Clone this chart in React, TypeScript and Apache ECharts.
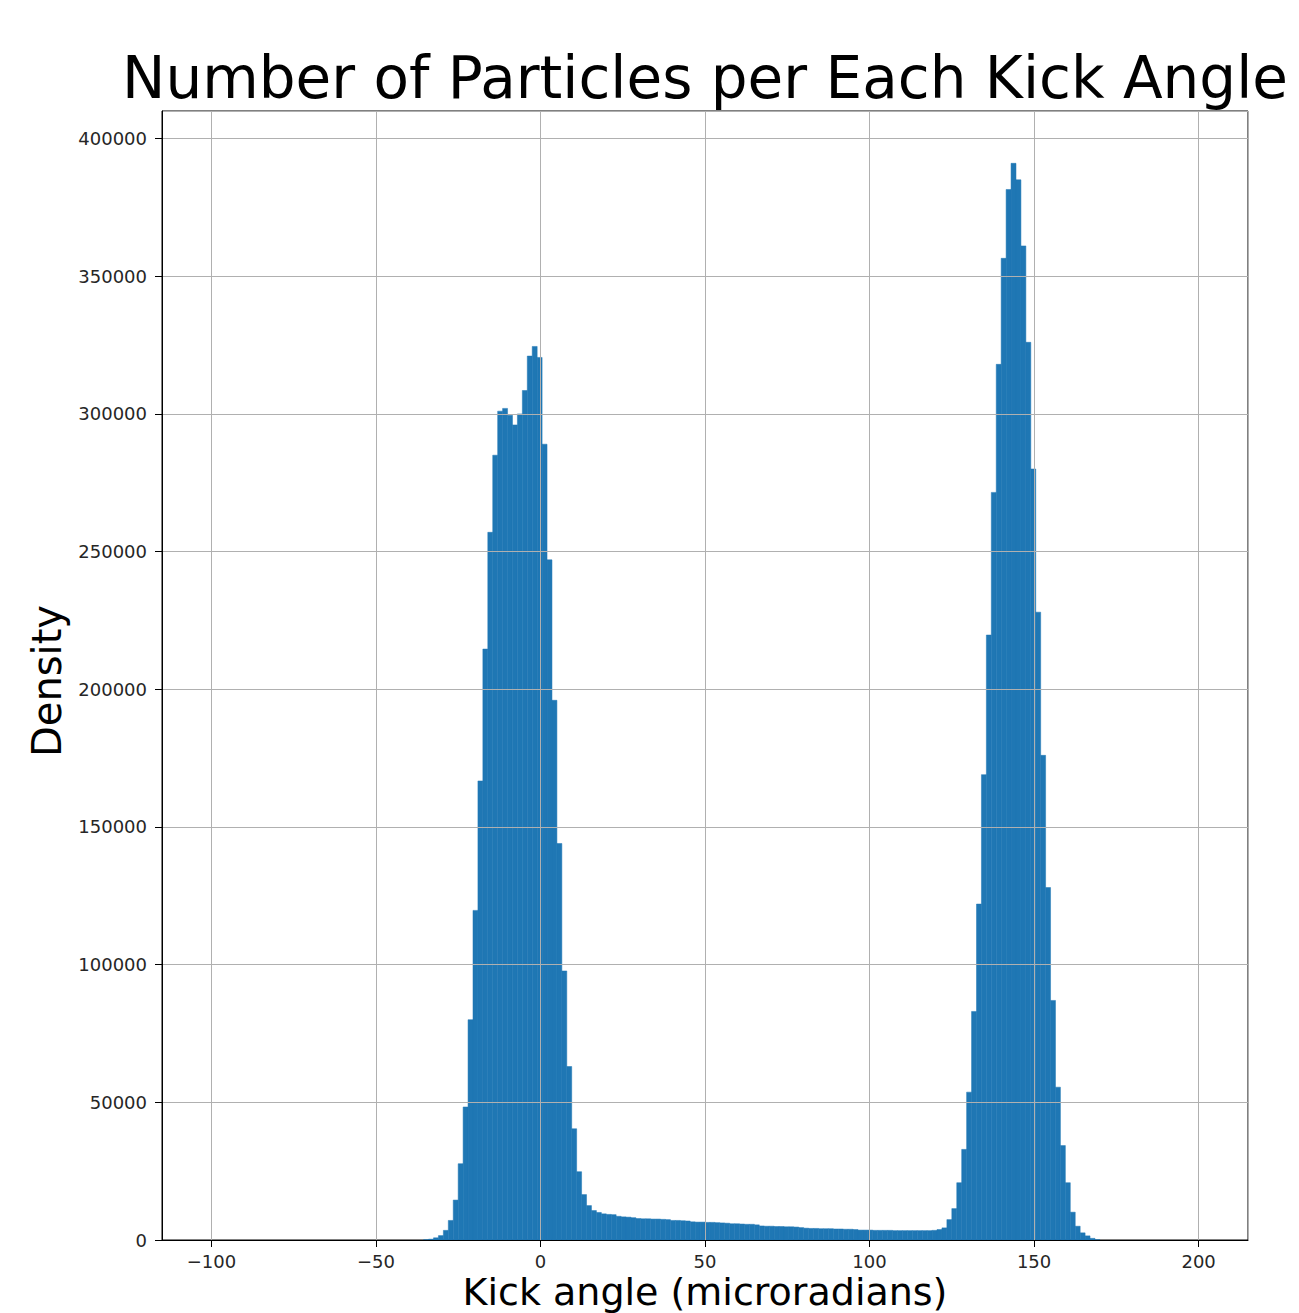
import React, { useEffect, useRef } from "react";
import * as echarts from "echarts";

const TITLE = "Number of Particles per Each Kick Angle";
const X_LABEL = "Kick angle (microradians)";
const Y_LABEL = "Density";

const X_MIN = -115;
const X_MAX = 215;
const Y_MIN = 0;
const Y_MAX = 410000;
const Y_TICK_STEP = 50000;

// histogram bins: width 1.5 µrad, first non-empty bin starts at -35.5
const BIN_WIDTH = 1.5;
const FIRST_BIN_LEFT = -35.5;

// bins centred -34.75 … 17.75
const leftPeakCounts = [
  100, 300, 800, 1600, 3500, 7100, 14500, 27700, 48300, 80000,
  119700, 166700, 214600, 257000, 285000, 301000, 302000, 299500, 296000, 300000,
  308500, 321000, 324500, 320500, 289000, 247000, 196000, 144000, 97700, 63000,
  40400, 24800, 16500, 12500, 10700, 10000,
];

// bins centred 19.25 … 119.75
const tailCounts = [
  9500, 9300, 9200,
  8600, 8400, 8300, 8100,
  7800, 7700, 7700, 7600, 7600, 7500, 7400,
  7100, 7100, 7000, 6900,
  6600, 6500, 6500, 6400, 6400, 6300, 6200, 6100,
  5900, 5900, 5800, 5700, 5700, 5500,
  5100, 5000, 5000, 4900, 4900, 4800, 4800, 4700,
  4500, 4300, 4200, 4200, 4100, 4100, 4100, 4000, 4000, 3900, 3900, 3800,
  3600, 3600, 3600, 3500, 3500, 3500, 3500, 3400, 3400, 3400, 3400, 3400, 3400, 3400, 3400, 3500,
];

// bins centred 121.25 … 169.25
const rightPeakCounts = [
  3800, 4400, 7400, 11400, 20800, 32900, 53700, 83000, 122000, 169000,
  219700, 271500, 318000, 356500, 381500, 391000, 385000, 361000, 326000, 280000,
  228000, 176000, 128000, 87000, 55500, 34300, 20800, 10100, 5000, 2600,
  1500, 600, 100,
];

const BAR_COLOR = "#1f77b4";
const FONT = "'DejaVu Sans', 'Liberation Sans', sans-serif";

const fmtTick = (v: number) => (v < 0 ? "\u2212" + Math.abs(v) : String(v));

export default function App() {
  const ref = useRef<HTMLDivElement>(null);

  useEffect(() => {
    if (!ref.current) return;
    const chart = echarts.init(ref.current, null, { renderer: "svg" });
    const counts = [...leftPeakCounts, ...tailCounts, ...rightPeakCounts];
    const data = counts.map((c, i) => {
      const left = FIRST_BIN_LEFT + i * BIN_WIDTH;
      return [left, left + BIN_WIDTH, c];
    });

    chart.setOption({
      animation: false,
      backgroundColor: "#ffffff",
      grid: {
        left: 162,
        right: 51,
        top: 111,
        bottom: 73,
        show: true,
        borderColor: "#000000",
        borderWidth: 1,
        backgroundColor: "transparent",
      },
      xAxis: {
        type: "value",
        min: X_MIN,
        max: X_MAX,
        splitNumber: 5,
        z: 5,
        axisLine: { show: true, onZero: false, lineStyle: { color: "#000000", width: 1 } },
        axisTick: { show: true, length: 7, lineStyle: { color: "#000000", width: 1 } },
        axisLabel: {
          show: true,
          margin: 12,
          fontSize: 18,
          fontFamily: FONT,
          color: "#262626",
          showMinLabel: false,
          showMaxLabel: false,
          formatter: fmtTick,
        },
        splitLine: { show: true, lineStyle: { color: "#b0b0b0", width: 1 } },
      },
      yAxis: {
        type: "value",
        min: Y_MIN,
        max: Y_MAX,
        interval: Y_TICK_STEP,
        z: 5,
        axisLine: { show: true, onZero: false, lineStyle: { color: "#000000", width: 1 } },
        axisTick: { show: true, length: 7, lineStyle: { color: "#000000", width: 1 } },
        axisLabel: {
          show: true,
          margin: 15,
          fontSize: 18,
          fontFamily: FONT,
          color: "#262626",
          showMaxLabel: false,
          formatter: (v: number) => String(v),
        },
        splitLine: { show: true, lineStyle: { color: "#b0b0b0", width: 1 } },
      },
      graphic: [
        {
          type: "text",
          x: 705,
          y: 78,
          style: {
            text: TITLE,
            font: `58px ${FONT}`,
            fill: "#000000",
            align: "center",
            verticalAlign: "middle",
          },
        },
        {
          type: "text",
          x: 705,
          y: 1292,
          style: {
            text: X_LABEL,
            font: `38px ${FONT}`,
            fill: "#000000",
            align: "center",
            verticalAlign: "middle",
          },
        },
        {
          type: "text",
          x: 47,
          y: 681,
          rotation: Math.PI / 2,
          style: {
            text: Y_LABEL,
            font: `40px ${FONT}`,
            fill: "#000000",
            align: "center",
            verticalAlign: "middle",
          },
        },
      ],
      series: [
        {
          type: "custom",
          z: 2,
          data,
          encode: { x: [0, 1], y: 2 },
          renderItem: (params: any, api: any) => {
            const l = api.value(0);
            const r = api.value(1);
            const h = api.value(2);
            const p0 = api.coord([l, h]);
            const p1 = api.coord([r, 0]);
            return {
              type: "rect",
              shape: { x: p0[0], y: p0[1], width: p1[0] - p0[0], height: p1[1] - p0[1] },
              style: { fill: BAR_COLOR, stroke: BAR_COLOR, lineWidth: 0.5 },
            };
          },
        },
      ],
    });

    return () => chart.dispose();
  }, []);

  return (
    <div
      ref={ref}
      style={{ position: "absolute", left: 0, top: 0, width: 1299, height: 1313, background: "#ffffff" }}
    />
  );
}
